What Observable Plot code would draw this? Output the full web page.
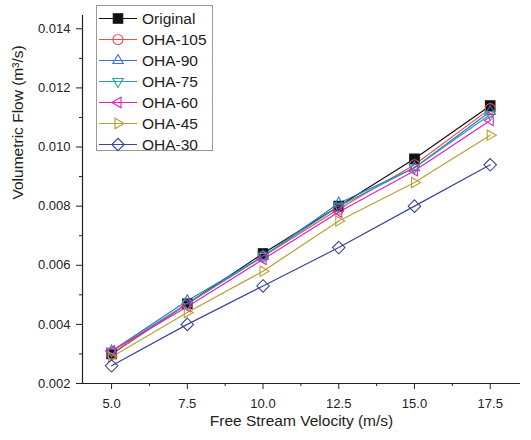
<!DOCTYPE html>
<html><head><meta charset="utf-8">
<script src="https://cdn.jsdelivr.net/npm/d3@7"></script>
<script src="https://cdn.jsdelivr.net/npm/@observablehq/plot@0.6"></script>
<style>
body{margin:0;background:#fff;}
#wrap{position:relative;width:531px;height:440px;font-family:"Liberation Sans",Arial,sans-serif;}
#legend{position:absolute;left:96px;top:5px;width:117px;height:146px;border:1px solid #999;background:#fff;box-sizing:border-box;}
.row{position:absolute;left:0;height:21px;width:117px;}
.row svg{position:absolute;left:0;top:0;}
.row span{position:absolute;left:45px;top:1px;font-size:15.5px;color:#222;line-height:19px;}
</style></head><body><div id="wrap"></div>
<script>
const velocity = [5.0, 7.5, 10.0, 12.5, 15.0, 17.5];
const seriesNames = ["Original", "OHA-105", "OHA-90", "OHA-75", "OHA-60", "OHA-45", "OHA-30"];
const original = [0.0030, 0.0047, 0.0064, 0.0080, 0.0096, 0.0114];
const oha105   = [0.0030, 0.0047, 0.0063, 0.0079, 0.0094, 0.0113];
const oha90    = [0.0031, 0.0048, 0.0063, 0.0081, 0.0093, 0.0112];
const oha75    = [0.0031, 0.0047, 0.0063, 0.0080, 0.0093, 0.0111];
const oha60    = [0.0031, 0.0046, 0.0062, 0.0078, 0.0092, 0.0109];
const oha45    = [0.0029, 0.0044, 0.0058, 0.0075, 0.0088, 0.0104];
const oha30    = [0.0026, 0.0040, 0.0053, 0.0066, 0.0080, 0.0094];
const seriesColors = ["#111111", "#e8504a", "#3f6fd6", "#26a2a6", "#e020c4", "#b9a033", "#3a4898"];
const xTicks = [5.0, 7.5, 10.0, 12.5, 15.0, 17.5];
const xMinor = [6.25, 8.75, 11.25, 13.75, 16.25];
const yTicks = [0.002, 0.004, 0.006, 0.008, 0.010, 0.012, 0.014];
const yMinor = [0.003, 0.005, 0.007, 0.009, 0.011, 0.013];

const allValues = [original, oha105, oha90, oha75, oha60, oha45, oha30];
const data = [];
seriesNames.forEach((name, i) => velocity.forEach((v, j) => data.push({series: name, v, q: allValues[i][j]})));

const xMin = 4.04, yMin = 0.002;

// custom symbols
function poly(dirs) {
  return {draw(ctx, size) {
    const r = Math.sqrt(size / Math.PI);
    dirs.forEach(([x, y], k) => k ? ctx.lineTo(x * r, y * r) : ctx.moveTo(x * r, y * r));
    ctx.closePath();
  }};
}
function tri(ax, ay) {
  const k = 1.2, pts = [];
  for (let t = 0; t < 3; t++) {
    const a = t * 2 * Math.PI / 3, c = Math.cos(a), s = Math.sin(a);
    pts.push([k * (ax * c - ay * s), k * (ax * s + ay * c)]);
  }
  return poly(pts);
}
const symSquare = poly([[-0.95,-0.95],[0.95,-0.95],[0.95,0.95],[-0.95,0.95]]);
const symCircle = {draw(ctx, size){ const r = Math.sqrt(size/Math.PI); ctx.moveTo(r,0); ctx.arc(0,0,r,0,2*Math.PI); }};
const symDiamond = poly([[0,-1.25],[1.25,0],[0,1.25],[-1.25,0]]);
const seriesSymbols = [symSquare, symCircle, tri(0,-1), tri(0,1), tri(-1,0), tri(1,0), symDiamond];
const seriesFill = ["#111111", "none", "none", "none", "none", "none", "none"];

const plot = Plot.plot({
  width: 531, height: 440,
  marginLeft: 82, marginRight: 11, marginTop: 15, marginBottom: 57,
  style: {fontFamily: '"Liberation Sans", Arial, sans-serif', fontSize: "13px", color: "#222", background: "#fff"},
  x: {type: "linear", domain: [xMin, 18.5], label: null},
  y: {type: "linear", domain: [yMin, 0.01445], label: null},
  color: {domain: seriesNames, range: seriesColors},
  symbol: {domain: seriesNames, range: seriesSymbols},
  marks: [
    Plot.axisX({ticks: xTicks, tickFormat: d3.format(".1f"), tickSize: 6, tickPadding: 9, stroke: "#222", fontSize: 13, label: null}),
    Plot.ruleX(xMinor, {x: d => d, y1: yMin, y2: yMin, insetBottom: -3, stroke: "#222"}),
    Plot.axisY({ticks: yTicks, tickFormat: d3.format(".3f"), tickSize: 6, tickPadding: 6, stroke: "#222", fontSize: 13, label: null}),
    Plot.ruleY(yMinor, {y: d => d, x1: xMin, x2: xMin, insetLeft: -3, stroke: "#222"}),
    Plot.ruleY([yMin], {stroke: "#222", strokeWidth: 1.2}),
    Plot.ruleX([xMin], {stroke: "#222", strokeWidth: 1.2}),
    Plot.lineY(data, {x: "v", y: "q", z: "series", stroke: "series", strokeWidth: 1.2}),
    Plot.dot(data, {x: "v", y: "q", symbol: "series", stroke: "series", r: 5, strokeWidth: 1.1,
      fill: d => d.series === "Original" ? "#111111" : "none"}),
    Plot.text(["Free Stream Velocity (m/s)"], {frameAnchor: "bottom", dy: 42, fontSize: 15.5, fill: "#222", text: d => d}),
    Plot.text(["Volumetric Flow (m³/s)"], {frameAnchor: "left", dx: -64, rotate: -90, fontSize: 15.5, fill: "#222", text: d => d})
  ]
});
const wrap = document.getElementById("wrap");
wrap.appendChild(plot);

// legend
const legend = document.createElement("div");
legend.id = "legend";
seriesNames.forEach((name, i) => {
  const row = document.createElement("div");
  row.className = "row";
  row.style.top = (2 + i * 21) + "px";
  const svg = d3.create("svg").attr("width", 44).attr("height", 21);
  svg.append("line").attr("x1", 2).attr("x2", 40).attr("y1", 10.5).attr("y2", 10.5)
    .attr("stroke", seriesColors[i]).attr("stroke-width", 1.2);
  svg.append("path").attr("transform", "translate(21,10.5)")
    .attr("d", d3.symbol(seriesSymbols[i], Math.PI * 25)())
    .attr("stroke", seriesColors[i]).attr("stroke-width", 1.1)
    .attr("fill", seriesFill[i]);
  row.appendChild(svg.node());
  const span = document.createElement("span");
  span.textContent = name;
  row.appendChild(span);
  legend.appendChild(row);
});
wrap.appendChild(legend);
</script>
</body></html>
